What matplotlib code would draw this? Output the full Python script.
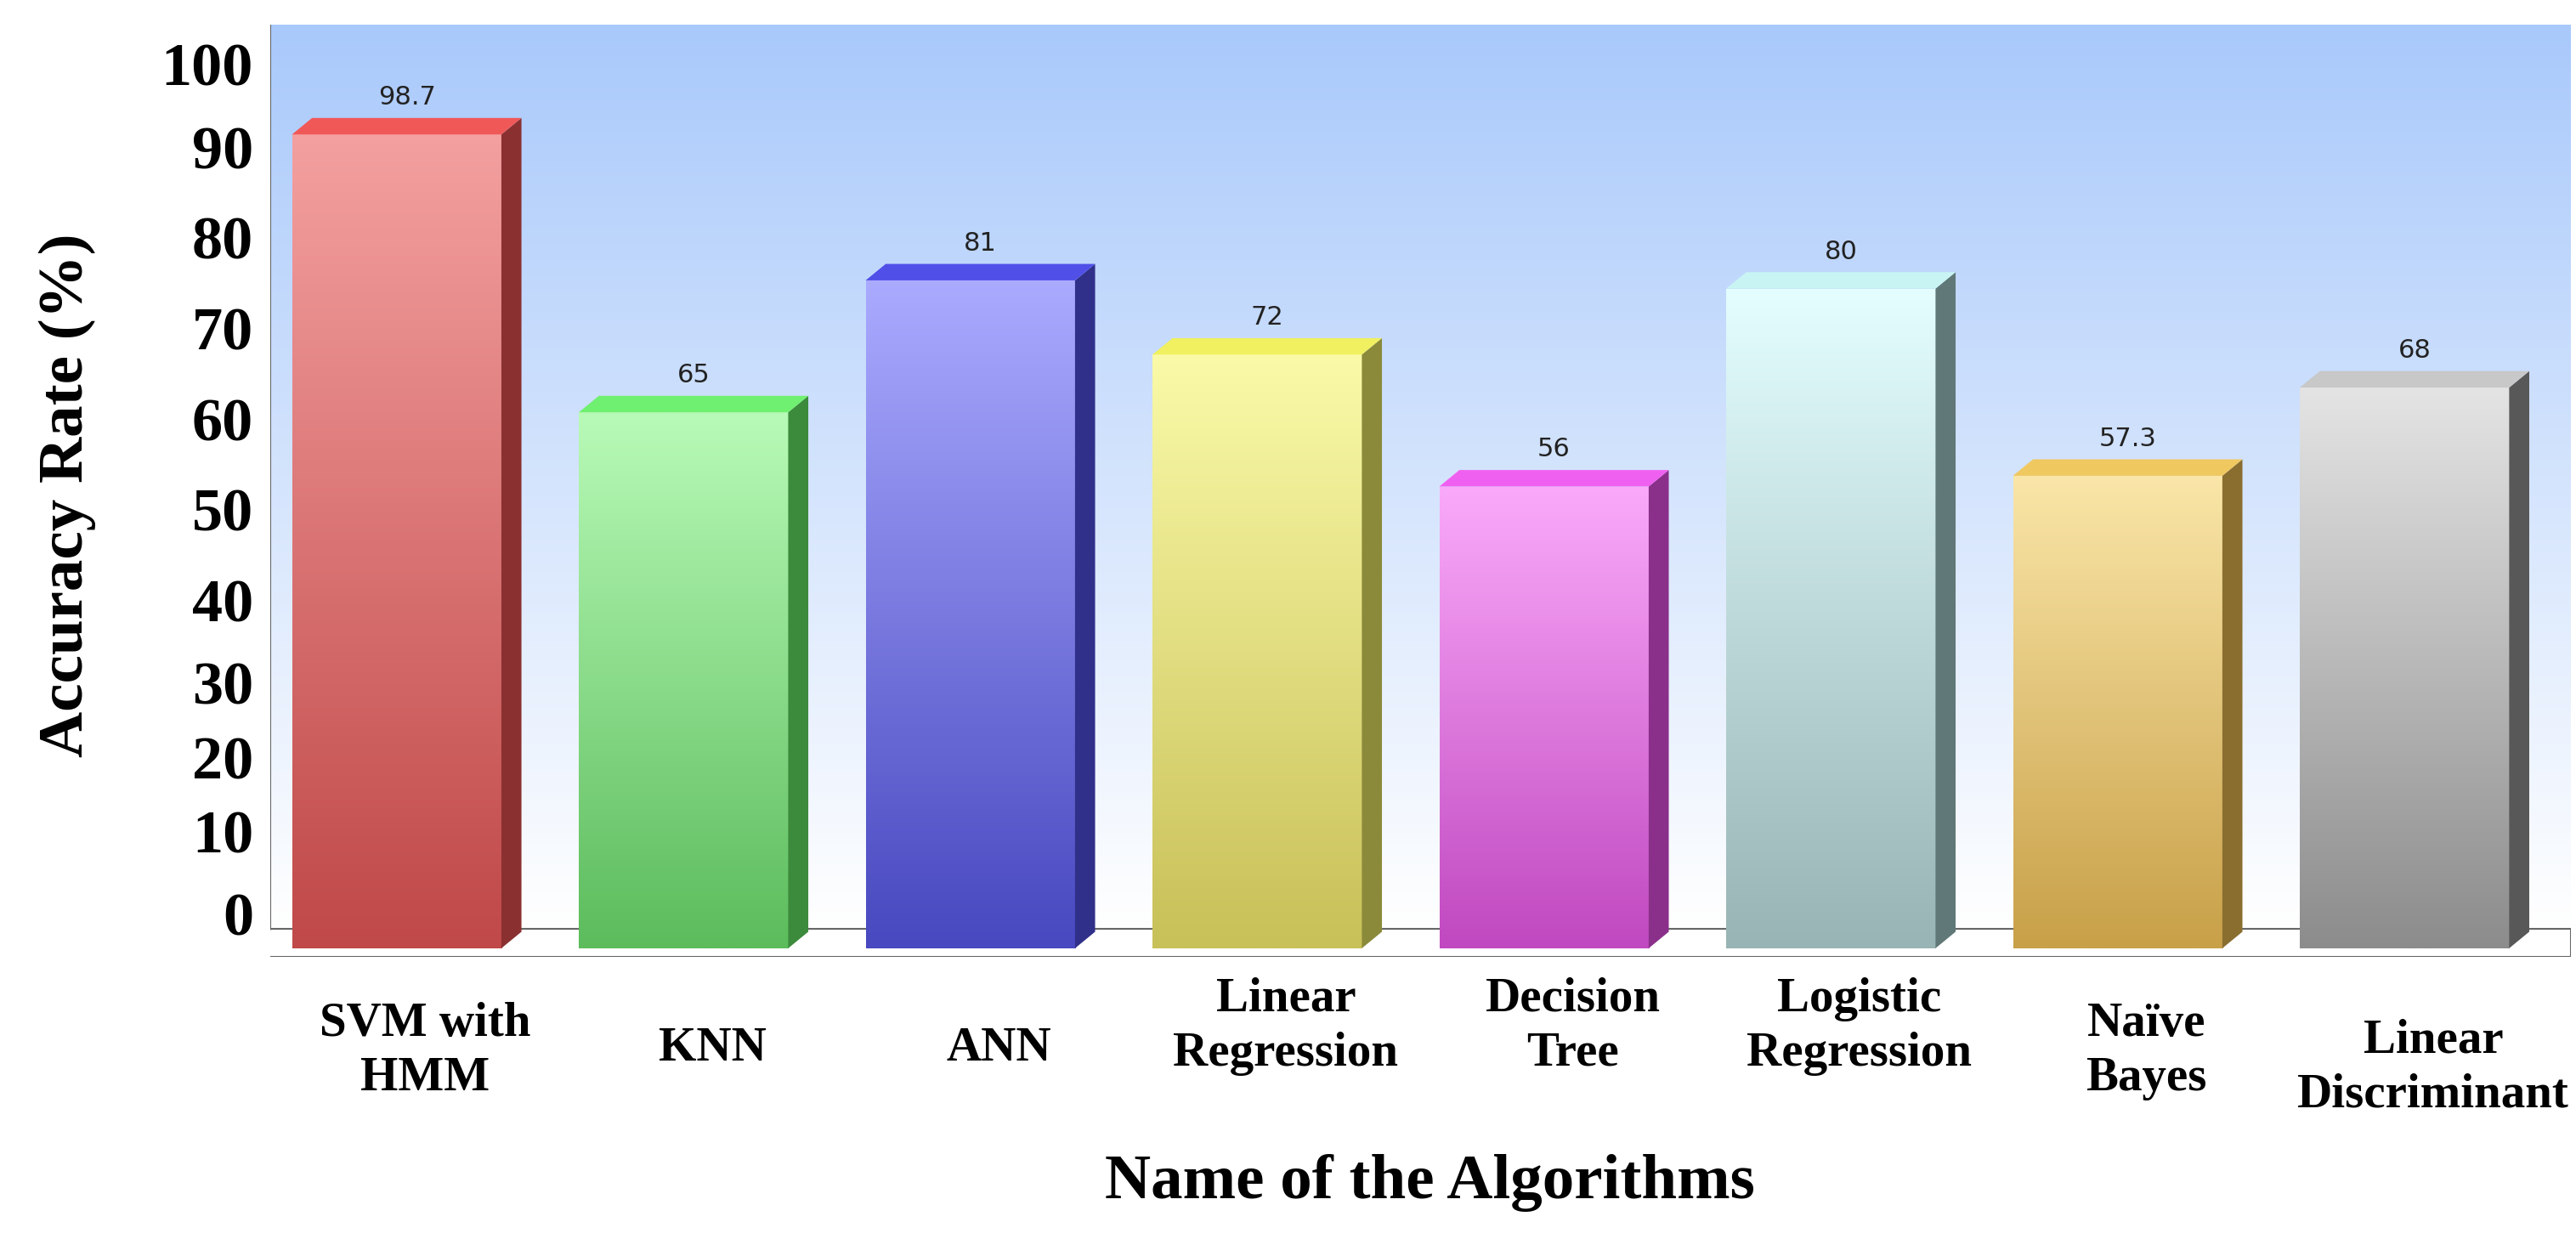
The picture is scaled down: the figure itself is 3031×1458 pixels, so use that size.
import numpy as np
import matplotlib
matplotlib.use("Agg")
import matplotlib.pyplot as plt
from matplotlib.patches import Polygon, Rectangle
from matplotlib.colors import LinearSegmentedColormap, to_rgb

categories = ["SVM with\nHMM", "KNN", "ANN", "Linear\nRegression", "Decision\nTree",
              "Logistic\nRegression", "Naïve\nBayes", "Linear\nDiscriminant"]
values = [98.7, 65, 81, 72, 56, 80, 57.3, 68]
value_labels = ["98.7", "65", "81", "72", "56", "80", "57.3", "68"]
tick_labels = ["0", "10", "20", "30", "40", "50", "60", "70", "80", "90", "100"]

top_cols = ["#f4a0a0", "#b8fab8", "#aaaaff", "#fafaa8", "#faaafa", "#e4feff", "#fae6a8", "#e4e4e4"]
bot_cols = ["#c04848", "#5cbc5c", "#4848c0", "#c8c058", "#c048c0", "#98b4b4", "#c8a048", "#8c8c8c"]
cap_cols = ["#f05858", "#70f070", "#5050e8", "#f0f060", "#f060f0", "#c8f4f4", "#f0c860", "#c8c8c8"]
side_cols = ["#8a3030", "#3c8a3c", "#30308a", "#8a8a3a", "#8a308a", "#607878", "#8a6e30", "#585858"]

W, H = 3031, 1458
fig = plt.figure(figsize=(W/100, H/100), dpi=100)
ax = fig.add_axes([0.105, 0.228, 0.893, 0.752])
ax.set_xlim(-0.44, 7.58)
ax.set_ylim(-1, 112)

bg = LinearSegmentedColormap.from_list("bg", ["#ffffff", "#a9c9fb"])
ax.imshow(np.linspace(0, 1, 256).reshape(-1, 1), cmap=bg, origin="lower", aspect="auto",
          extent=(-0.44, 7.58, 2.4, 112), zorder=0)
ax.add_patch(Polygon([(-0.49, -1), (7.58, -1), (7.58, 2.4), (-0.44, 2.4)],
                     closed=True, facecolor="white", edgecolor="#666666", lw=1.5, zorder=1))
ax.plot([-0.44, -0.44], [2.4, 112], color="#666666", lw=1.5, zorder=1)

bw = 0.73
dx, dy = 0.07, 2.0
for i, v in enumerate(values):
    x0, x1 = i - bw/2, i + bw/2
    cm = LinearSegmentedColormap.from_list("c%d" % i, [bot_cols[i], top_cols[i]])
    rect = Rectangle((x0, 0), bw, v, facecolor="none", edgecolor="none")
    ax.add_patch(rect)
    im = ax.imshow(np.linspace(0, 1, 256).reshape(-1, 1), cmap=cm, origin="lower",
                   aspect="auto", extent=(x0, x1, 0, v), zorder=3)
    im.set_clip_path(rect)
    sc = np.array(to_rgb(side_cols[i]))
    ax.add_patch(Polygon([(x1, 0), (x1 + dx, dy), (x1 + dx, v + dy), (x1, v)],
                         closed=True, facecolor=sc, edgecolor="none", zorder=3))
    ax.add_patch(Polygon([(x0, v), (x1, v), (x1 + dx, v + dy), (x0 + dx, v + dy)],
                         closed=True, facecolor=cap_cols[i], edgecolor="none", zorder=3))
    ax.text(i + dx/2, v + dy + 1.0, value_labels[i], ha="center", va="bottom",
            fontsize=22, family="Liberation Sans Narrow", color="#222222", zorder=4)

ax.set_xticks([])
ax.set_yticks([])
for s in ax.spines.values():
    s.set_visible(False)

tick_pos = [3.4, 13.4, 22.4, 31.4, 41.4, 52.4, 63.4, 74.4, 85.4, 96.4, 106.4]
for p, t in zip(tick_pos, tick_labels):
    ax.text(-0.5, p, t, ha="right", va="center", fontsize=52, fontweight="bold",
            family="Liberation Serif", clip_on=False)

label_top = [-6.5, -9.5, -9.5, -3.5, -3.5, -3.5, -6.5, -8.5]
for i, c in enumerate(categories):
    ax.text(i + 0.1, label_top[i], c, ha="center", va="top", fontsize=41,
            fontweight="bold", family="Liberation Serif", linespacing=1.3, clip_on=False)

fig.text(0.026, 0.60, "Accuracy Rate (%)", rotation=90, ha="center", va="center",
         fontsize=54, fontweight="bold", family="Liberation Serif")
fig.text(0.555, 0.045, "Name of the Algorithms", ha="center", va="center",
         fontsize=54, fontweight="bold", family="Liberation Serif")

fig.savefig("out.png", dpi=100)
